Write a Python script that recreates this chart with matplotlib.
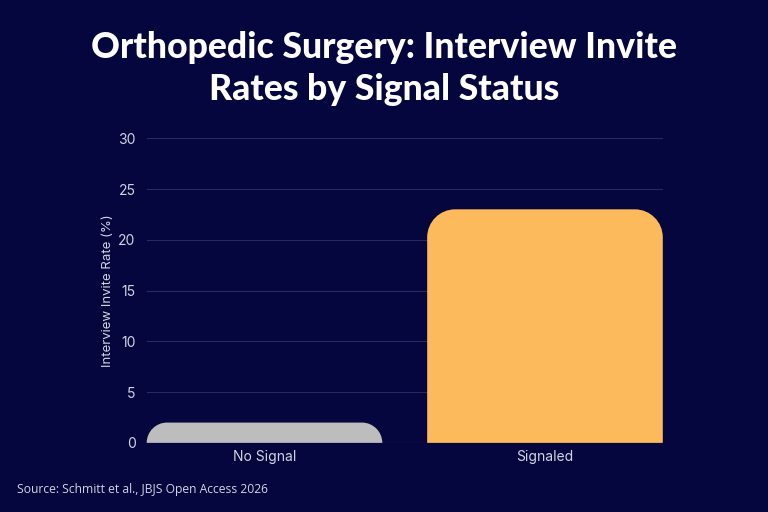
import matplotlib
matplotlib.use("Agg")
import matplotlib.pyplot as plt
from matplotlib.path import Path
from matplotlib.patches import PathPatch
from matplotlib.transforms import IdentityTransform

categories = ["No Signal", "Signaled"]
rates = [2.0, 23.0]
bar_colors = ["#BDBDBD", "#FDBA5C"]
yticks = [0, 5, 10, 15, 20, 25, 30]

bg = "#04063D"
tick_color = "#D2D4E2"

fig = plt.figure(figsize=(7.68, 5.12), dpi=100, facecolor=bg)
ax = fig.add_axes([0.191, 0.135, 0.672, 0.595], facecolor=bg)

ax.set_xlim(-0.42, 1.42)
ax.set_ylim(0, 30)
ax.set_yticks(yticks)
ax.set_yticklabels([str(t) for t in yticks])
ax.set_xticks(range(len(categories)))
ax.set_xticklabels(categories)

for s in ax.spines.values():
    s.set_visible(False)
ax.tick_params(length=0, colors=tick_color, labelsize=10, pad=5)
ax.tick_params(axis="y", pad=8)
for lbl in ax.get_xticklabels() + ax.get_yticklabels():
    lbl.set_fontfamily("Inter")
ax.grid(axis="y", color="#262A5E", linewidth=0.8)
ax.axhline(0, color="#3A3E70", linewidth=0.8, zorder=1)
ax.set_axisbelow(True)

ax.set_ylabel("Interview Invite Rate (%)", color=tick_color, fontsize=9.5,
              family="Inter", labelpad=3)

# bars with rounded top corners, drawn in pixel space
bars = ax.bar(range(len(categories)), rates, width=0.84, color=bar_colors)
fig.canvas.draw()
for b, c in zip(bars, bar_colors):
    x0, y0 = b.get_x(), b.get_y()
    x1, y1 = x0 + b.get_width(), y0 + b.get_height()
    (px0, py0), (px1, py1) = ax.transData.transform([(x0, y0), (x1, y1)])
    r = min(28, py1 - py0, (px1 - px0) / 2)
    k = 0.5523 * r
    verts = [
        (px0, py0), (px0, py1 - r),
        (px0, py1 - r + k), (px0 + r - k, py1), (px0 + r, py1),
        (px1 - r, py1),
        (px1 - r + k, py1), (px1, py1 - r + k), (px1, py1 - r),
        (px1, py0), (px0, py0),
    ]
    codes = [Path.MOVETO, Path.LINETO,
             Path.CURVE4, Path.CURVE4, Path.CURVE4,
             Path.LINETO,
             Path.CURVE4, Path.CURVE4, Path.CURVE4,
             Path.LINETO, Path.CLOSEPOLY]
    b.set_visible(False)
    patch = PathPatch(Path(verts, codes), facecolor=c, edgecolor="none",
                      transform=IdentityTransform(), zorder=3)
    fig.add_artist(patch)

fig.text(0.5, 0.866, "Orthopedic Surgery: Interview Invite\nRates by Signal Status",
         ha="center", va="center", color="white", fontsize=25.7,
         family="Lato", weight="black", linespacing=1.32)

fig.text(0.022, 0.038, "Source: Schmitt et al., JBJS Open Access 2026",
         color=tick_color, fontsize=8.7, family="Open Sans")

fig.savefig("out.png", dpi=100, facecolor=bg)
